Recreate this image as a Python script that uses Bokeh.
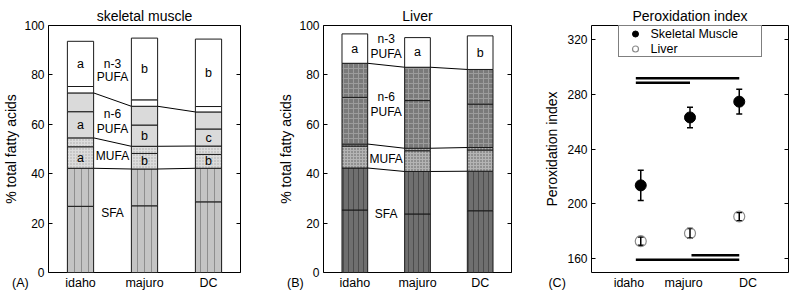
import numpy as np
from bokeh.plotting import figure
from bokeh.models import (ColumnDataSource, FixedTicker, LinearAxis, Range1d,
                          Legend, LegendItem, Whisker, TeeHead)
from bokeh.layouts import row
from bokeh.core.properties import value
from bokeh.embed import file_html
from bokeh.resources import INLINE

FONT = "Liberation Sans"

sites = ["idaho", "majuro", "DC"]
site_x = [1, 2, 3]

# ---- (A) skeletal muscle: % of total fatty acids, each class in two sub-fractions
mus_sfa = [[26.8, 27.0, 28.6], [15.4, 14.9, 13.6]]
mus_mufa = [[8.7, 6.3, 5.6], [3.6, 2.9, 3.4]]
mus_n6 = [[10.6, 8.6, 6.9], [7.6, 7.6, 6.9]]
mus_n3 = [[2.6, 2.6, 2.2], [18.3, 25.0, 27.3]]
mus_letters_mufa = ["a", "b", "b"]
mus_letters_n6 = ["a", "b", "c"]
mus_letters_n3 = ["a", "b", "b"]

# ---- (B) liver
liv_sfa = [[25.3, 23.7, 25.0], [17.0, 17.2, 16.0]]
liv_mufa = [[8.9, 8.4, 8.6], [0.8, 1.0, 1.0]]
liv_n6 = [[18.9, 19.3, 17.6], [13.8, 13.5, 14.0]]
liv_n3 = [[11.9, 12.0, 13.6]]
liv_letters_n3 = ["a", "a", "b"]

# ---- (C) peroxidation index (mean and error)
pi_muscle = [213.5, 263.0, 274.5]
pi_muscle_err = [11.0, 7.5, 9.0]
pi_liver = [172.8, 178.6, 190.8]
pi_liver_err = [3.0, 3.5, 3.0]
# significance bars: from x0 to x1 at level y
sig_x0 = [0.9, 0.9, 0.9, 2.03]
sig_x1 = [3.0, 2.0, 3.0, 3.0]
sig_y = [291.6, 288.2, 159.3, 162.5]
pi_label_pos = [0.76, 1.87, 3.18]

bar_ticks = [0, 20, 40, 60, 80, 100]
pi_ticks = [160, 200, 240, 280, 320]

EM = "\u2003"
EN = "\u2002"
H = 296


def setup(p, title, yticks, ylabel, xticks, xlabels, lab_standoff, tag_tick, tag_text):
    p.title.text = title
    p.title.align = "center"
    p.title.text_font = FONT
    p.title.text_font_size = "14px"
    p.title.text_font_style = "normal"
    p.title.text_color = "black"
    p.title.standoff = 3
    p.grid.visible = False
    p.outline_line_color = "black"
    p.outline_line_width = 1
    p.outline_line_alpha = 1
    ya = p.yaxis[0]
    ya.ticker = FixedTicker(ticks=yticks)
    ya.axis_label = ylabel
    ya.axis_label_text_font = FONT
    ya.axis_label_text_font_size = "14px"
    ya.axis_label_text_font_style = "normal"
    ya.axis_label_text_color = "black"
    ya.axis_label_standoff = lab_standoff
    ya.major_label_text_font = FONT
    ya.major_label_text_font_size = "12px"
    ya.major_label_text_color = "black"
    ya.major_label_standoff = 4
    ya.major_tick_in = 4
    ya.major_tick_out = 0
    ya.minor_tick_line_color = None
    ya.axis_line_color = None
    ya.major_tick_line_color = "black"
    ra = LinearAxis(ticker=FixedTicker(ticks=yticks), major_label_text_font_size="1px",
                    major_label_text_color=None,
                    major_label_standoff=0, major_tick_in=4, major_tick_out=0,
                    minor_tick_line_color=None, axis_line_color=None,
                    major_tick_line_color="black")
    p.add_layout(ra, "right")
    # category axis; the panel tag sits on the same row, left of the frame
    ticks = [tag_tick] + list(xticks)
    labels = [tag_text] + list(xlabels)
    xa = p.xaxis[0]
    xa.ticker = FixedTicker(ticks=ticks)
    xa.major_label_overrides = {t: s for t, s in zip(ticks, labels)}
    xa.major_label_text_font = FONT
    xa.major_label_text_font_size = "12.5px"
    xa.major_label_text_color = "black"
    xa.major_label_standoff = 3
    xa.major_tick_in = 0
    xa.major_tick_out = 0
    xa.major_tick_line_color = None
    xa.minor_tick_line_color = None
    xa.axis_line_color = None


def stack_panel(title, tag, classes, letters, class_text, shades, width, bl, br):
    p = figure(width=width, height=H, x_range=Range1d(0.5, 3.5), y_range=Range1d(0, 100),
               output_backend="svg", toolbar_location=None,
               min_border_left=bl, min_border_right=br, min_border_top=25, min_border_bottom=24)
    setup(p, title, bar_ticks, "% total fatty acids", site_x, sites, 2, 0.5,
          tag + EM * 4 + EN)
    bw = 0.41
    xs = np.array(site_x, dtype=float)
    base = np.zeros(3)
    class_tops = []
    for name, subs in classes:
        sty = shades[name]
        for k, sub in enumerate(subs):
            top = base + np.array(sub, dtype=float)
            src = ColumnDataSource(dict(x=xs, bottom=base.copy(), top=top))
            p.vbar(x="x", bottom="bottom", top="top", width=bw, source=src,
                   line_color="#1a1a1a", line_width=1, **sty)
            if name in letters and letters[name][0] == k:
                p.text(x=xs, y=(base + top) / 2, text=letters[name][1],
                       text_font=value(FONT), text_font_size="12.5px", text_color="black",
                       text_align="center", text_baseline="middle")
            base = top
        class_tops.append(base.copy())
    for t in class_tops[:-1]:
        p.segment(x0=xs[:-1] + bw / 2, y0=t[:-1], x1=xs[1:] - bw / 2, y1=t[1:],
                  line_color="black", line_width=1)
    txt, ty = zip(*class_text)
    p.text(x=[1.5] * len(txt), y=list(ty), text=list(txt), text_font=value(FONT),
           text_font_size="12px", text_color="black", text_align="center", text_baseline="middle")
    return p


shades_a = {
    "sfa": dict(fill_color="#c4c4c4", hatch_pattern="|", hatch_color="#8e8e8e", hatch_scale=7, hatch_weight=1),
    "mufa": dict(fill_color="#dcdcdc", hatch_pattern=".", hatch_color="#a8a8a8", hatch_scale=3, hatch_weight=1),
    "n6": dict(fill_color="#dadada"),
    "n3": dict(fill_color="white"),
}
shades_b = {
    "sfa": dict(fill_color="#6f6f6f", hatch_pattern="|", hatch_color="#4c4c4c", hatch_scale=5, hatch_weight=1),
    "mufa": dict(fill_color="#b4b4b4", hatch_pattern=".", hatch_color="#5a5a5a", hatch_scale=3, hatch_weight=1),
    "n6": dict(fill_color="#7a7a7a", hatch_pattern="+", hatch_color="#9c9c9c", hatch_scale=5, hatch_weight=1),
    "n3": dict(fill_color="white"),
}

pa = stack_panel(
    "skeletal muscle", "(A)",
    [("sfa", mus_sfa), ("mufa", mus_mufa), ("n6", mus_n6), ("n3", mus_n3)],
    {"mufa": (0, mus_letters_mufa), "n6": (0, mus_letters_n6), "n3": (1, mus_letters_n3)},
    [("n-3", 84.5), ("PUFA", 79.0), ("n-6", 64.2), ("PUFA", 58.1), ("MUFA", 47.0), ("SFA", 24.0)],
    shades_a, 275, 45, 35)

pb = stack_panel(
    "Liver", "(B)",
    [("sfa", liv_sfa), ("mufa", liv_mufa), ("n6", liv_n6), ("n3", liv_n3)],
    {"n3": (0, liv_letters_n3)},
    [("n-3", 94.6), ("PUFA", 88.5), ("n-6", 71.0), ("PUFA", 64.9), ("MUFA", 46.0), ("SFA", 23.6)],
    shades_b, 266, 40, 30)

# ---- panel C
pc = figure(width=259, height=H, x_range=Range1d(0, 4), y_range=Range1d(150, 330),
            output_backend="svg", toolbar_location=None,
            min_border_left=48, min_border_right=12, min_border_top=25, min_border_bottom=24)
setup(pc, "Peroxidation index", pi_ticks, "Peroxidation index", pi_label_pos, sites, 4, 0.0,
      "(C)" + EM * 5 + EN)

m = np.array(pi_muscle)
me = np.array(pi_muscle_err)
l = np.array(pi_liver)
le = np.array(pi_liver_err)
src_m = ColumnDataSource(dict(x=site_x, y=m, lo=m - me, hi=m + me))
src_l = ColumnDataSource(dict(x=site_x, y=l, lo=l - le, hi=l + le))
for src in (src_m, src_l):
    pc.add_layout(Whisker(source=src, base="x", lower="lo", upper="hi",
                          line_color="black", line_width=1.5,
                          upper_head=TeeHead(size=6, line_color="black", line_width=1.5),
                          lower_head=TeeHead(size=6, line_color="black", line_width=1.5)))
r_m = pc.scatter("x", "y", source=src_m, size=11, fill_color="black", line_color="black")
r_l = pc.scatter("x", "y", source=src_l, size=11, fill_color=None, line_color="#8a8a8a", line_width=1.2)
pc.segment(x0=sig_x0, y0=sig_y, x1=sig_x1, y1=sig_y, line_color="black", line_width=2.5)

legend = Legend(items=[LegendItem(label="Skeletal Muscle", renderers=[r_m]),
                       LegendItem(label="Liver", renderers=[r_l])],
                location="top_center", margin=0, padding=0, spacing=0,
                label_height=15, glyph_height=15, glyph_width=32, label_standoff=0,
                label_width=110, label_text_font=FONT, label_text_font_size="12.5px",
                label_text_color="black", border_line_color="black", border_line_width=1,
                background_fill_alpha=1)
pc.add_layout(legend)

layout = row(pa, pb, pc, spacing=0)
open("out.html", "w").write(file_html(layout, INLINE))
